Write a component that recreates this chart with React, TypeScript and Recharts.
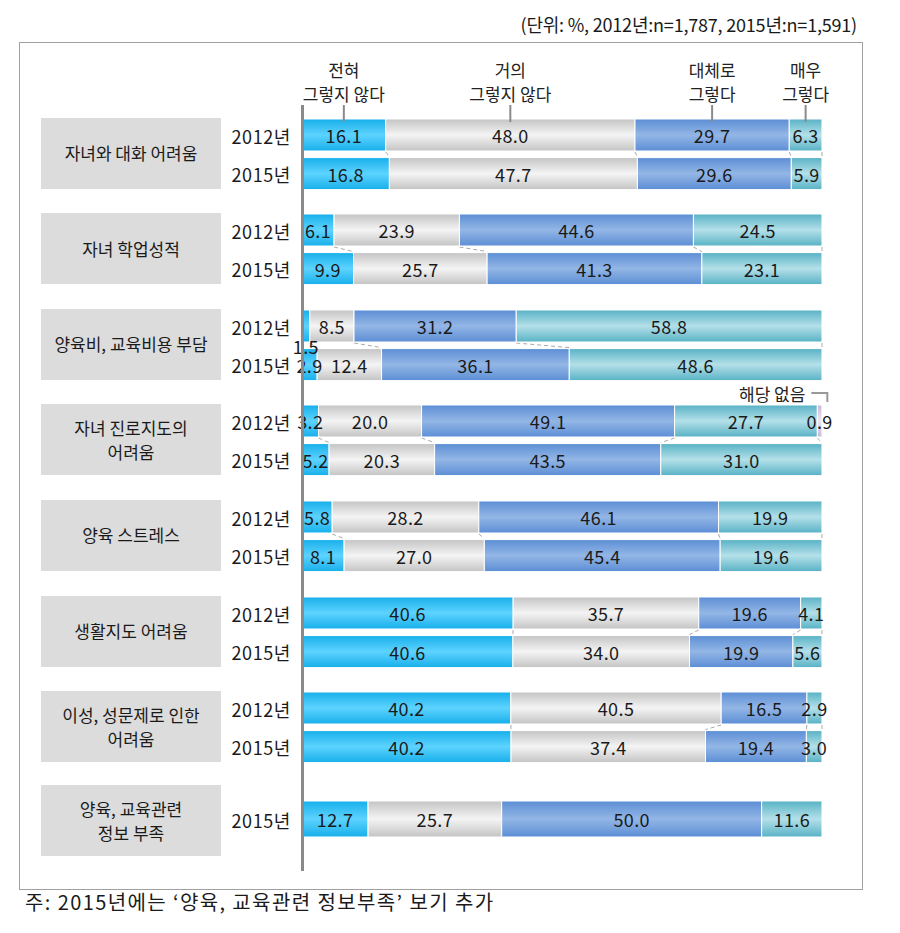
import { BarChart, Bar, XAxis, YAxis, LabelList } from 'recharts';

const FONT = '"Noto Sans CJK KR", "Noto Sans", sans-serif';

// categories (left boxes)
const groupLabels = [
  ['자녀와 대화 어려움'],
  ['자녀 학업성적'],
  ['양육비, 교육비용 부담'],
  ['자녀 진로지도의', '어려움'],
  ['양육 스트레스'],
  ['생활지도 어려움'],
  ['이성, 성문제로 인한', '어려움'],
  ['양육, 교육관련', '정보 부족'],
];
const yearLabels = ['2012년', '2015년'];
const seriesNames = ['전혀\n그렇지 않다', '거의\n그렇지 않다', '대체로\n그렇다', '매우\n그렇다', '해당 없음'];

// values, %
const notAtAll2012 = [16.1, 6.1, 1.5, 3.2, 5.8, 40.6, 40.2];
const notAtAll2015 = [16.8, 9.9, 2.9, 5.2, 8.1, 40.6, 40.2, 12.7];
const hardly2012 = [48.0, 23.9, 8.5, 20.0, 28.2, 35.7, 40.5];
const hardly2015 = [47.7, 25.7, 12.4, 20.3, 27.0, 34.0, 37.4, 25.7];
const mostly2012 = [29.7, 44.6, 31.2, 49.1, 46.1, 19.6, 16.5];
const mostly2015 = [29.6, 41.3, 36.1, 43.5, 45.4, 19.9, 19.4, 50.0];
const very2012 = [6.3, 24.5, 58.8, 27.7, 19.9, 4.1, 2.9];
const very2015 = [5.9, 23.1, 48.6, 31.0, 19.6, 5.6, 3.0, 11.6];
const notApplicable2012 = [0, 0, 0, 0.9, 0, 0, 0];

const KEYS = ['v1', 'v2', 'v3', 'v4', 'v5'];
const GRADS: Record<string, [string, string]> = {
  v1: ['#17afea', '#5dd3ff'],
  v2: ['#c4c4c4', '#f4f4f4'],
  v3: ['#5c8ed5', '#93b6e5'],
  v4: ['#58b2c5', '#b4e0e9'],
  v5: ['#c9b9d9', '#ece4f2'],
};

type Row = { year: string; [k: string]: any };

const groups = groupLabels.map((label, g) => {
  const rows: Row[] = [];
  if (g < notAtAll2012.length) {
    rows.push({
      year: yearLabels[0],
      v1: notAtAll2012[g], v2: hardly2012[g], v3: mostly2012[g], v4: very2012[g], v5: notApplicable2012[g],
    });
  }
  rows.push({
    year: yearLabels[1],
    v1: notAtAll2015[g], v2: hardly2015[g], v3: mostly2015[g], v4: very2015[g], v5: 0,
  });
  return { label, rows };
});

const BAND = 38.6;
const BAR = 32;
const AXIS_W = 80;
const PLOT_LEFT = 302;
const PLOT_W = 520;
const RIGHT_M = 40;

const rowTotal = (r: Row) => KEYS.reduce((s, k) => s + (r[k] || 0), 0);
const cumTo = (r: Row, key: string) => {
  let s = 0;
  for (const k of KEYS) {
    s += r[k] || 0;
    if (k === key) break;
  }
  return s;
};

function makeShape(g: number, key: string) {
  return (p: any) => {
    const { x, y, width, height, payload } = p;
    if (!(width > 0)) return <g />;
    const rows = groups[g].rows;
    const tot = rowTotal(payload);
    const plotW = (width * tot) / payload[key];
    const left = x + width - (cumTo(payload, key) / tot) * plotW;
    const parts: any[] = [
      <rect key="r" x={x} y={y} width={width} height={height} fill={`url(#gr${g}${key})`} stroke="#fff" strokeWidth={1} />,
    ];
    // dashed connector between the 2012 and 2015 boundaries
    if (rows.length === 2 && payload.year === yearLabels[1]) {
      const prev = rows[0];
      const px = left + (cumTo(prev, key) / rowTotal(prev)) * plotW;
      parts.push(
        <line key="c" x1={px} y1={y - (BAND - BAR) + 1} x2={x + width} y2={y - 1}
          stroke="#a8a8a8" strokeWidth={1} strokeDasharray="4 3" />
      );
    }
    // column headings above the first bar
    if (g === 0 && payload.year === yearLabels[0] && key !== 'v5') {
      const cx = x + width / 2;
      const lines = seriesNames[KEYS.indexOf(key)].split('\n');
      parts.push(
        <line key="l" x1={cx} y1={y - 14} x2={cx} y2={y + 3} stroke="#8a8a8a" strokeWidth={2} />
      );
      lines.forEach((t, i) => {
        parts.push(
          <text key={'t' + i} x={cx} y={y - 49 + i * 24} textAnchor="middle" dominantBaseline="central"
            fontSize={17} fill="#222" fontFamily={FONT}>{t}</text>
        );
      });
    }
    return <g>{parts}</g>;
  };
}

function makeLabel(key: string) {
  return (p: any) => {
    const vb = p.viewBox && p.viewBox.width !== undefined ? p.viewBox : p;
    const { x, y, width, height } = vb;
    const value = p.value;
    if (!value) return null;
    const cx = x + width / 2;
    let cy = y + height / 2;
    const extra: any[] = [];
    if (key === 'v1' && width < 10) {
      cy = y + height + 4;
    }
    if (key === 'v5') {
      extra.push(
        <text key="na" x={x - 12} y={y - 11} textAnchor="end" dominantBaseline="central"
          fontSize={17} fill="#222" fontFamily={FONT}>{seriesNames[4]}</text>,
        <polyline key="br" points={`${x - 6},${y - 12} ${x + 10},${y - 12} ${x + 10},${y - 3}`}
          fill="none" stroke="#999" strokeWidth={2} />
      );
    }
    return (
      <g>
        {extra}
        <text x={cx} y={cy} textAnchor="middle" dominantBaseline="central" fontSize={18} letterSpacing={0.4}
          fill="#1a1a1a" fontFamily={FONT}>{value.toFixed(1)}</text>
      </g>
    );
  };
}

function GroupChart({ g, top }: { g: number; top: number }) {
  const rows = groups[g].rows;
  const single = rows.length === 1;
  const barSize = single ? 36 : BAR;
  const offset = Math.floor((BAND - barSize) / 2);
  const mTop = g === 0 ? 72 : 24;
  const mBottom = 6;
  const h = BAND * rows.length + mTop + mBottom;
  return (
    <div style={{ position: 'absolute', left: PLOT_LEFT - AXIS_W, top: top - offset - mTop }}>
      <BarChart layout="vertical" width={AXIS_W + PLOT_W + RIGHT_M} height={h} data={rows}
        stackOffset="expand" barSize={barSize} margin={{ top: mTop, right: RIGHT_M, bottom: mBottom, left: 0 }}>
        <defs>
          {KEYS.map((k) => (
            <linearGradient key={k} id={`gr${g}${k}`} x1="0" y1="0" x2="0" y2="1">
              <stop offset="0%" stopColor={GRADS[k][0]} />
              <stop offset="50%" stopColor={GRADS[k][1]} />
              <stop offset="100%" stopColor={GRADS[k][0]} />
            </linearGradient>
          ))}
        </defs>
        <XAxis type="number" hide domain={[0, 1]} />
        <YAxis type="category" dataKey="year" width={AXIS_W} axisLine={false} tickLine={false}
          tickMargin={5} tick={{ fontSize: 18, fill: '#1a1a1a', fontFamily: FONT, dy: 2, letterSpacing: 0.6 }} />
        {KEYS.map((k) => (
          <Bar key={k} dataKey={k} stackId="s" isAnimationActive={false} shape={makeShape(g, k)}>
            <LabelList dataKey={k} content={makeLabel(k)} />
          </Bar>
        ))}
      </BarChart>
    </div>
  );
}

export default function App() {
  const tops = groups.map((_, g) => (g < 7 ? 118.5 + g * 95.6 : 800.5));
  return (
    <div style={{ position: 'absolute', left: 0, top: 0, width: 900, height: 933, background: '#fff', fontFamily: FONT, color: '#1a1a1a' }}>
      <div style={{ position: 'absolute', right: 43, top: 13, fontSize: 18, lineHeight: '22px', whiteSpace: 'nowrap', letterSpacing: -0.2 }}>
        (단위: %, 2012년:n=1,787, 2015년:n=1,591)
      </div>
      <div style={{ position: 'absolute', left: 19, top: 42, width: 842, height: 846, border: '1px solid #a0a0a0' }} />
      {groups.map((gr, g) => {
        const boxTop = g < 7 ? tops[g] - 1 : 785;
        return (
          <div key={'b' + g} style={{
            position: 'absolute', left: 41, top: boxTop, width: 180, height: 71, background: '#dcdcdc',
            display: 'flex', flexDirection: 'column', alignItems: 'center', justifyContent: 'center',
            fontSize: 17, lineHeight: '24px',
          }}>
            {gr.label.map((t, i) => <div key={i}>{t}</div>)}
          </div>
        );
      })}
      {groups.map((_, g) => <GroupChart key={g} g={g} top={tops[g]} />)}
      <div style={{ position: 'absolute', left: 301, top: 105, width: 3, height: 766, background: '#8a8a8a' }} />
      <div style={{ position: 'absolute', left: 25, top: 890, fontSize: 20, lineHeight: '24px', whiteSpace: 'nowrap', letterSpacing: 1.4 }}>
        주: 2015년에는 ‘양육, 교육관련 정보부족’ 보기 추가
      </div>
    </div>
  );
}
